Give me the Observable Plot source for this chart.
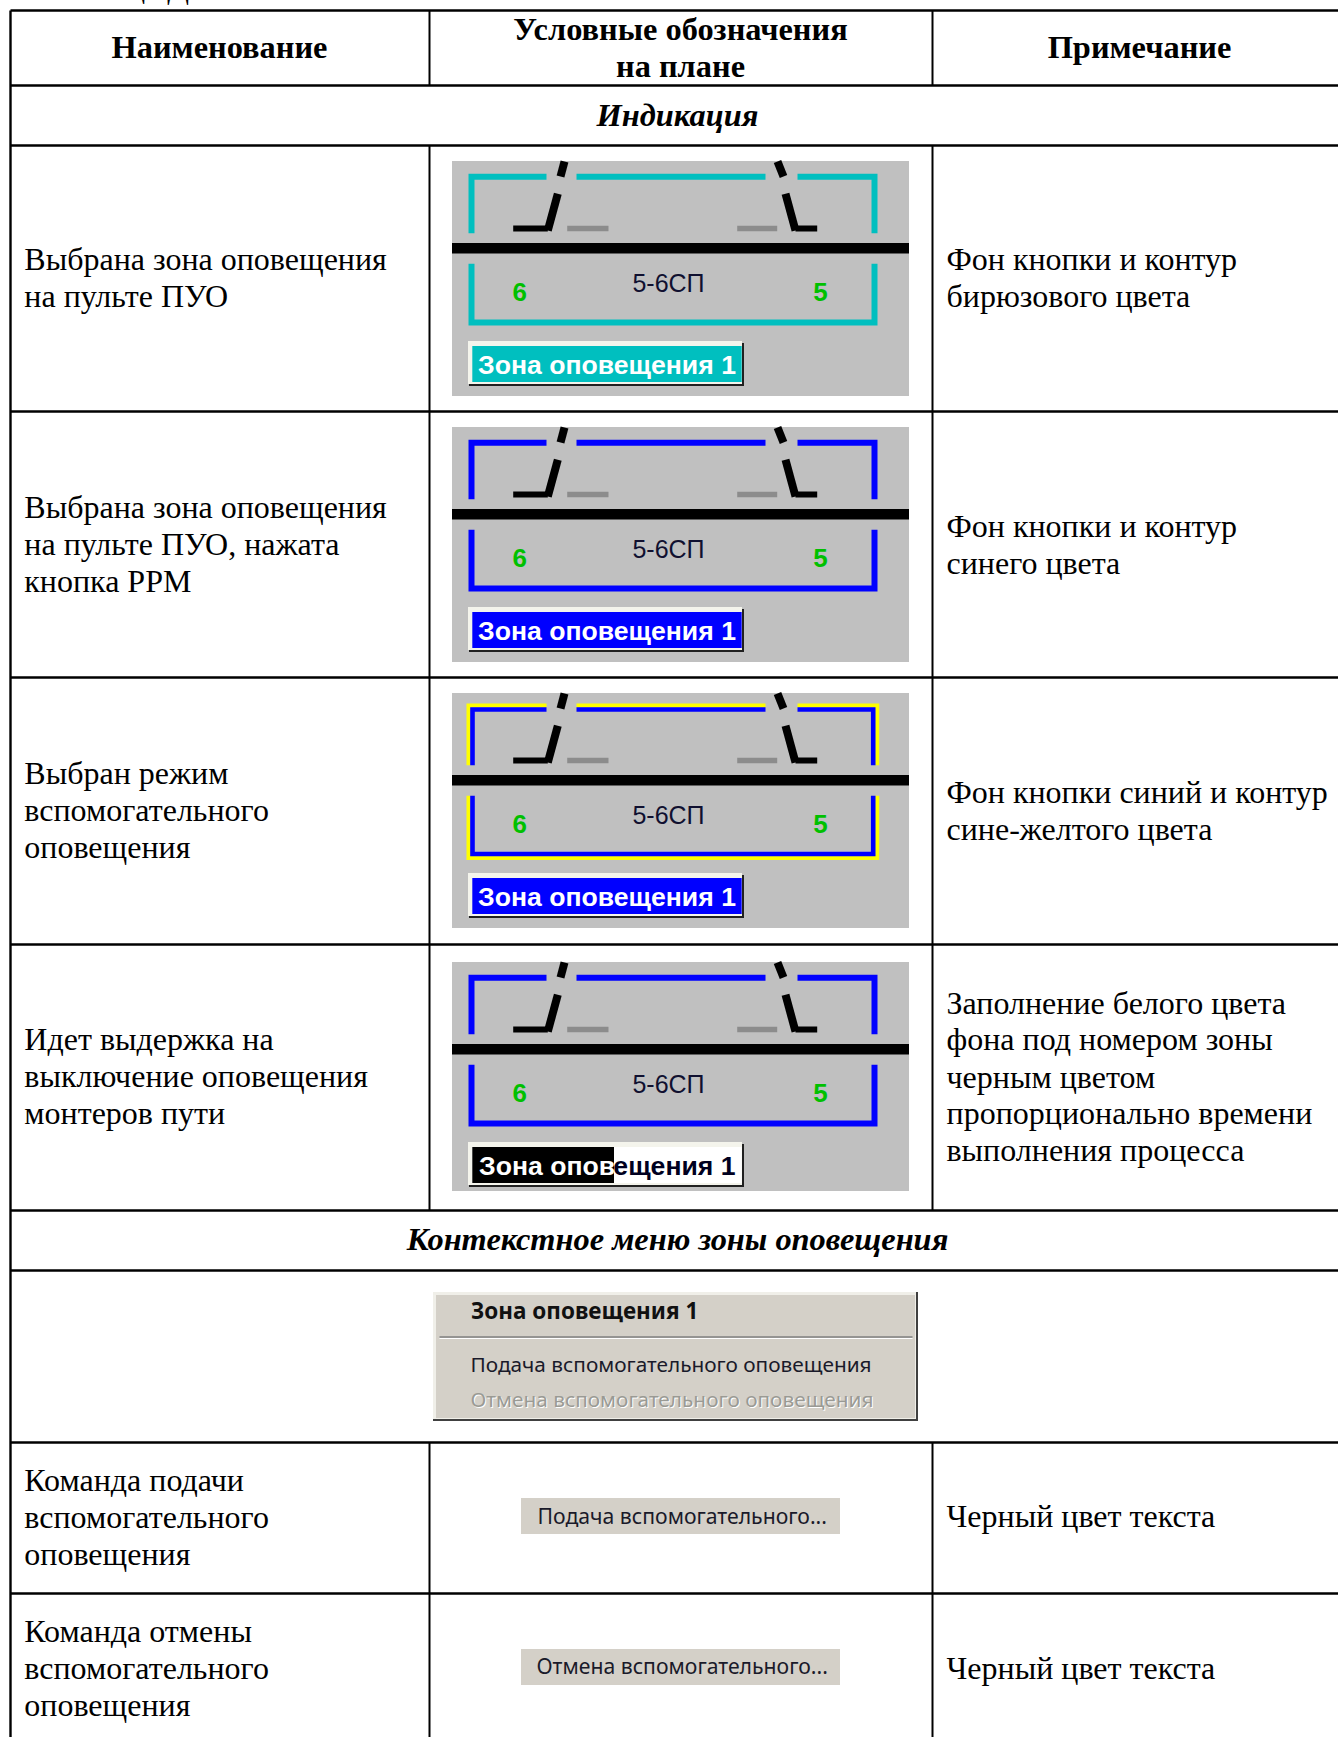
<!DOCTYPE html>
<html><head><meta charset="utf-8">
<script src="https://cdn.jsdelivr.net/npm/d3@7"></script>
<script src="https://cdn.jsdelivr.net/npm/@observablehq/plot@0.6"></script>
<style>html,body{margin:0;padding:0;background:#fff;overflow:hidden}svg{display:block}</style>
</head><body><div id="chart"></div>
<script>
// Table text
const headers = ["Наименование", "Условные обозначения", "на плане", "Примечание"];
const sections = ["Индикация", "Контекстное меню зоны оповещения"];
const nameLines = ["Выбрана зона оповещения","на пульте ПУО","Выбрана зона оповещения","на пульте ПУО, нажата","кнопка РРМ","Выбран режим","вспомогательного","оповещения","Идет выдержка на","выключение оповещения","монтеров пути","Команда подачи","вспомогательного","оповещения","Команда отмены","вспомогательного","оповещения"];
const nameRows = [259,296,507,544,581,773,810,847,1039,1076,1113,1480,1517,1554,1631,1668,1705];
const noteLines = ["Фон кнопки и контур","бирюзового цвета","Фон кнопки и контур","синего цвета","Фон кнопки синий и контур","сине-желтого цвета","Заполнение белого цвета","фона под номером зоны","черным цветом","пропорционально времени","выполнения процесса","Черный цвет текста","Черный цвет текста"];
const noteRows = [259,296,526,563,792,829,1003,1039,1077,1113,1150,1516,1668];
// Table grid
const gridRows = [10,85,145,411,677,944,1210,1270,1442,1593];
const gridColumns = [429,932];
const gridColumnSpans = [[10,85],[145,1210],[1442,1737]];
// Indication panels
const panelTops = [161,427,693,962];
const panelHeights = [235,235,235,229];
const buttonFills = ["#00bfbf","#0000ff","#0000ff","#ffffff"];
const contourLayers = [
  [{color:"#00bfbf",w:6,l:19,t:15.3,r:422,b:161}],
  [{color:"#0000ff",w:6,l:19,t:15.3,r:422,b:161}],
  [{color:"#ffff00",w:4,l:16,t:12,r:424.7,b:164.5},{color:"#0000ff",w:4.6,l:20,t:16,r:420.7,b:160.5}],
  [{color:"#0000ff",w:6,l:19,t:15.3,r:422,b:161}]
];
const switchSlants = [
  [[112,0],[108,15]], [[105.3,32.3],[95.3,69]],
  [[325,0],[331,15]], [[333,32.3],[343,69]]
];
const switchArms = [[[60.7,67],[95.3,67]], [[343,67],[364.7,67]]];
const switchGray = [[[114.7,67],[156,67]], [[284.7,67],[324.7,67]]];
const trackLabels = ["6","5-6СП","5"];

const serif = "Liberation Serif";
const sans = "Liberation Sans";
const menuFont = "Noto Sans";

const lines = [], rects = [], texts = [];
function rect(x1,y1,x2,y2,fill){ rects.push({x1,y1,x2,y2,fill}); }
let lineId = 0;
function path(points,color,w,cap="butt"){ const id=lineId++; points.forEach(([x,y])=>lines.push({x,y,id,color,w,cap})); }
function text(t,x,y,o){ texts.push({t,x,y,size:32,weight:"normal",style:"normal",font:serif,anchor:"start",fill:"#000",...o}); }

// Grid
gridRows.forEach(y=>path([[10,y],[1338,y]],"#000",2.4));
path([[10,10],[10,1737]],"#000",2.4);
gridColumns.forEach(x=>gridColumnSpans.forEach(([a,b])=>path([[x,a],[x,b]],"#000",2)));

// Header text
const headStyle = {weight:"bold",anchor:"middle",size:32.4};
text("Таблица Д",46,-13,{});
text(headers[0],219,47,headStyle);
text(headers[1],680,29,headStyle);
text(headers[2],680,66,headStyle);
text(headers[3],1139,47,headStyle);
text(sections[0],677,115,{...headStyle,style:"italic"});
text(sections[1],677,1239,{...headStyle,style:"italic"});
nameLines.forEach((t,i)=>text(t,23.8,nameRows[i],{}));
noteLines.forEach((t,i)=>text(t,946,noteRows[i],{}));

// Panels
panelTops.forEach((top,i)=>{
  const X=x=>452+x, Y=y=>top+y;
  const R=(a,b,c,d,f)=>rect(X(a),Y(b),X(c),Y(d),f);
  const local=s=>s.map(([x,y])=>[X(x),Y(y)]);
  R(0,0,457,panelHeights[i],"#c0c0c0");
  R(0,82,457,92.5,"#000000");
  contourLayers[i].forEach(({color,w,l,t,r,b})=>{
    const P=pts=>path(local(pts),color,w);
    P([[l,71.7],[l,t],[94,t]]); P([[124,t],[313,t]]); P([[345,t],[r,t],[r,71.7]]);
    P([[l,102.3],[l,b],[r,b],[r,102.3]]);
  });
  switchSlants.forEach(s=>path(local(s),"#000",8));
  switchArms.forEach(s=>path(local(s),"#000",6));
  switchGray.forEach(s=>path(local(s),"#8c8c8c",5.5));
  text(trackLabels[0],X(67.3),Y(131),{font:sans,size:26,weight:"bold",anchor:"middle",fill:"#00c000"});
  text(trackLabels[1],X(216),Y(122.5),{font:sans,size:25,anchor:"middle",fill:"#101030"});
  text(trackLabels[2],X(368),Y(131),{font:sans,size:26,weight:"bold",anchor:"middle",fill:"#00c000"});
  R(17,182,292,225,"#202020");
  R(16,180,290,223,"#f4f4ec");
  R(20.3,185,289.7,221,buttonFills[i]);
  if(i===3){
    R(20.3,185,162,221,"#000000");
    text("Зона опов",X(26.5),Y(204),{font:sans,size:26.6,weight:"bold",fill:"#ffffff"});
    text("ещения 1",X(283),Y(204),{font:sans,size:26.6,weight:"bold",anchor:"end",fill:"#000020"});
  } else {
    text("Зона оповещения 1",X(154.5),Y(204),{font:sans,size:26.6,weight:"bold",anchor:"middle",fill:"#ffffff"});
  }
});

// Context menu
rect(433,1292,918,1421,"#404040");
rect(433,1292,916,1419,"#f0efe9");
rect(436,1295,915,1418,"#d4d0c8");
path([[439,1336.5],[912,1336.5]],"#808080",1.5);
path([[439,1338],[912,1338]],"#ffffff",1);
text("Зона оповещения 1",470.5,1311,{font:menuFont,size:22.5,weight:"bold",fill:"#111"});
text("Подача вспомогательного оповещения",470,1365,{font:menuFont,size:20.8,fill:"#1a1a2a"});
text("Отмена вспомогательного оповещения",471,1401,{font:menuFont,size:20.8,fill:"#ffffff"});
text("Отмена вспомогательного оповещения",470,1400,{font:menuFont,size:20.8,fill:"#9a9a94"});
// Command buttons
rect(521,1498,840,1534,"#d4d0c8");
rect(521,1649,840,1685,"#d4d0c8");
text("Подача вспомогательного...",537,1517,{font:menuFont,size:21.2,fill:"#1a1a2a"});
text("Отмена вспомогательного...",536,1667,{font:menuFont,size:21.2,fill:"#1a1a2a"});

// One mark per text style so the font attributes apply
const textGroups = d3.groups(texts,d=>[d.size,d.weight,d.style,d.font,d.anchor].join("|"));
const chart = Plot.plot({
  width:1338,height:1737,margin:0,
  x:{domain:[0,1338],range:[0,1338],axis:null},
  y:{domain:[0,1737],range:[0,1737],axis:null},
  style:{background:"#fff",overflow:"hidden"},
  marks:[
    Plot.rect(rects,{x1:"x1",y1:"y1",x2:"x2",y2:"y2",fill:d=>d.fill}),
    ...d3.groups(lines,d=>d.id).map(([id,pts])=>Plot.line(pts,{x:"x",y:"y",stroke:pts[0].color,strokeWidth:pts[0].w,strokeLinecap:pts[0].cap,strokeLinejoin:"miter",strokeMiterlimit:10})),
    ...textGroups.map(([k,g])=>Plot.text(g,{x:"x",y:"y",text:"t",fill:d=>d.fill,fontSize:g[0].size,fontWeight:g[0].weight,fontStyle:g[0].style,fontFamily:g[0].font,textAnchor:g[0].anchor}))
  ]
});
document.getElementById("chart").appendChild(chart);
</script></body></html>
